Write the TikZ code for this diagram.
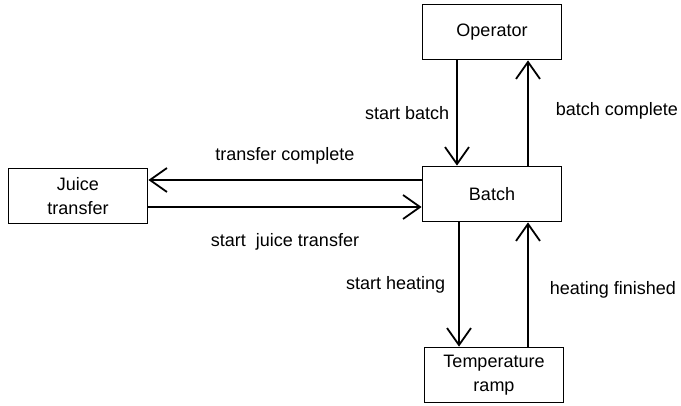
\documentclass[tikz,border=0pt]{standalone}
\usepackage{fontspec}
\setmainfont{Liberation Sans}
\usetikzlibrary{arrows.meta,positioning}

\begin{document}
\begin{tikzpicture}[x=1pt,y=1pt,>={Straight Barb[length=17pt,width=24pt]}]
        \tikzstyle{every node}=[font=\fontsize{18}{24}\selectfont]
        \tikzstyle{box}=[draw,line width=1.8pt,minimum width=139pt,minimum height=55pt,align=center,inner sep=2pt]
        \tikzstyle{msg}=[line width=1.8pt,->]
        \tikzstyle{lbl}=[inner sep=0pt]
        \useasboundingbox (0,0) rectangle (681,405);
        \node[box] (op) at (492,373) {Operator};
        \node[box] (batch) at (492,211) {Batch};
        \node[box] (juice) at (78,209) {Juice\\transfer};
        \node[box] (temp) at (494,30) {Temperature\\ramp};
        \coordinate (bw1) at ([yshift=14pt]batch.west);
        \coordinate (bw2) at ([yshift=-13pt]batch.west);
        \coordinate (bs1) at ([xshift=-33pt]batch.south);
        \coordinate (bs2) at ([xshift=36pt]batch.south);
        % operator <-> batch
        \draw[msg] ([xshift=-35pt]op.south) -- node[lbl,left=7pt] (sb) {start batch} ([xshift=-35pt]batch.north);
        \draw[msg] ([xshift=36pt]batch.north) -- node[lbl,right=27pt,yshift=2pt] (bc) {batch complete} ([xshift=36pt]op.south);
        % batch <-> juice transfer
        \draw[msg] (bw1) -- node[lbl,above=15pt] (tc) {transfer complete} (juice.east |- bw1);
        \draw[msg] (juice.east |- bw2) -- node[lbl,below=26pt] (sj) {start\ \ juice transfer} (bw2);
        % batch <-> temperature ramp
        \draw[msg] (bs1) -- node[lbl,left=13pt] (sh) {start heating} (temp.north -| bs1);
        \draw[msg] (temp.north -| bs2) -- node[lbl,right=21pt,yshift=-5pt] (hf) {heating finished} (bs2);
    \end{tikzpicture}
\end{document}
